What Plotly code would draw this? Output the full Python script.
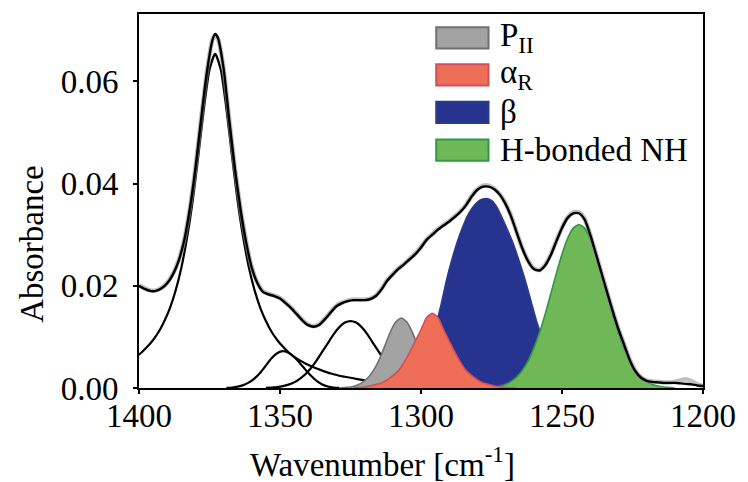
import plotly.graph_objects as go

# ---------------- data ----------------
total_x = [1400, 1398, 1396, 1394, 1392, 1390, 1388, 1386, 1384, 1382, 1380, 1378, 1376, 1374, 1373,
           1372, 1370, 1368, 1366, 1364, 1362, 1360, 1358, 1356, 1354, 1352, 1350, 1348, 1346, 1344,
           1342, 1340, 1338, 1336, 1334, 1332, 1330, 1328, 1326, 1324, 1322, 1320, 1318, 1316, 1314,
           1312, 1310, 1308, 1306, 1304, 1302, 1300, 1298, 1296, 1294, 1292, 1290, 1288, 1286, 1284,
           1282, 1280, 1278, 1276, 1274, 1272, 1270, 1268, 1266, 1264, 1262, 1260, 1258, 1256, 1254,
           1252, 1250, 1248, 1246, 1244, 1242, 1240, 1238, 1236, 1234, 1232, 1230, 1228, 1226, 1224,
           1222, 1220, 1218, 1216, 1214, 1212, 1210, 1208, 1206, 1204, 1202, 1200]
total_y = [0.0200, 0.0194, 0.0190, 0.0190, 0.0195, 0.0205, 0.0222, 0.0248, 0.0288, 0.0350, 0.0430,
           0.0525, 0.0615, 0.0680, 0.0693, 0.0685, 0.0625, 0.0525, 0.0430, 0.0350, 0.0285, 0.0235,
           0.0205, 0.0188, 0.0183, 0.0180, 0.0175, 0.0166, 0.0156, 0.0144, 0.0132, 0.0123, 0.0120,
           0.0124, 0.0135, 0.0148, 0.0160, 0.0166, 0.0170, 0.0172, 0.0172, 0.0172, 0.0174, 0.0180,
           0.0193, 0.0210, 0.0222, 0.0233, 0.0242, 0.0252, 0.0262, 0.0275, 0.0290, 0.0300, 0.0310,
           0.0318, 0.0326, 0.0335, 0.0345, 0.0358, 0.0375, 0.0388, 0.0394, 0.0394, 0.0389, 0.0378,
           0.0360, 0.0335, 0.0303, 0.0272, 0.0248, 0.0233, 0.0230, 0.0240, 0.0260, 0.0287, 0.0313,
           0.0333, 0.0342, 0.0342, 0.0330, 0.0300, 0.0263, 0.0225, 0.0187, 0.0150, 0.0115, 0.0085,
           0.0055, 0.0033, 0.0020, 0.0014, 0.0012, 0.0011, 0.0010, 0.0010, 0.0010, 0.0009, 0.0008,
           0.0007, 0.0005, 0.0004]
measured_y = [0.0201, 0.0195, 0.0191, 0.0191, 0.0196, 0.0206, 0.0223, 0.0249, 0.0289, 0.0351, 0.0431,
              0.0526, 0.0616, 0.0681, 0.0690, 0.0683, 0.0625, 0.0526, 0.0431, 0.0351, 0.0286, 0.0236,
              0.0206, 0.0189, 0.0184, 0.0181, 0.0176, 0.0167, 0.0157, 0.0145, 0.0133, 0.0124, 0.0121,
              0.0125, 0.0136, 0.0149, 0.0161, 0.0167, 0.0171, 0.0173, 0.0173, 0.0173, 0.0175, 0.0181,
              0.0194, 0.0211, 0.0223, 0.0234, 0.0243, 0.0253, 0.0263, 0.0276, 0.0291, 0.0301, 0.0311,
              0.0319, 0.0327, 0.0336, 0.0346, 0.0359, 0.0376, 0.0389, 0.0396, 0.0396, 0.0390, 0.0379,
              0.0361, 0.0336, 0.0304, 0.0273, 0.0249, 0.0234, 0.0231, 0.0241, 0.0261, 0.0288, 0.0314,
              0.0334, 0.0344, 0.0344, 0.0331, 0.0301, 0.0264, 0.0226, 0.0188, 0.0151, 0.0116, 0.0086,
              0.0056, 0.0034, 0.0021, 0.0015, 0.0013, 0.0012, 0.0011, 0.0011, 0.0012, 0.0015, 0.0017,
              0.0013, 0.0007, 0.0004]

band1373_x = [1401, 1399, 1397, 1395, 1393, 1391, 1389, 1387, 1385, 1383, 1381, 1379, 1377, 1375, 1373,
              1371, 1369, 1367, 1365, 1363, 1361, 1359, 1357, 1355, 1353, 1351, 1349, 1347, 1345, 1343,
              1341, 1339, 1337, 1335, 1333, 1331, 1329, 1327, 1325, 1323, 1321, 1319, 1317, 1315, 1313,
              1311, 1309]
band1373_y = [0.0061, 0.0070, 0.0081, 0.0094, 0.0110, 0.0131, 0.0157, 0.0191, 0.0235, 0.0293, 0.0365,
              0.0453, 0.0546, 0.0623, 0.0654, 0.0623, 0.0546, 0.0453, 0.0365, 0.0293, 0.0235, 0.0191,
              0.0157, 0.0131, 0.0110, 0.0094, 0.0081, 0.0070, 0.0061, 0.0054, 0.0048, 0.0043, 0.0038,
              0.0034, 0.0030, 0.0027, 0.0024, 0.0022, 0.0020, 0.0018, 0.0016, 0.0014, 0.0012, 0.0011,
              0.0009, 0.0008, 0.0007]

band1349_x = [1369, 1367, 1365, 1363, 1361, 1359, 1357, 1355, 1353, 1351, 1349, 1347, 1345, 1343, 1341,
              1339, 1337, 1335, 1333, 1331, 1329]
band1349_y = [0.00003, 0.0001, 0.00026, 0.00056, 0.0011, 0.0019, 0.0030, 0.0044, 0.0058, 0.0068, 0.0072,
              0.0069, 0.0061, 0.0049, 0.0036, 0.0024, 0.0014, 0.0007, 0.0003, 0.0001, 0.00003]

band1325_x = [1355, 1353, 1351, 1349, 1347, 1345, 1343, 1341, 1339, 1337, 1335, 1333, 1331, 1329, 1327,
              1325, 1323, 1321, 1319, 1317, 1315, 1313, 1311, 1309, 1307, 1305, 1303, 1301, 1299, 1297,
              1295]
band1325_y = [0.00005, 0.0001, 0.0002, 0.00037, 0.00066, 0.0011, 0.0018, 0.0027, 0.0039, 0.0054, 0.0071,
              0.0088, 0.0105, 0.0119, 0.0128, 0.0131, 0.0128, 0.0119, 0.0105, 0.0088, 0.0071, 0.0054,
              0.0039, 0.0027, 0.0018, 0.0011, 0.00066, 0.00037, 0.0002, 0.0001, 0.00005]

pii_x = [1329, 1327, 1325, 1323, 1321, 1319, 1317, 1315, 1313, 1311, 1309, 1307, 1305, 1303, 1301, 1299,
         1297, 1295, 1293, 1291, 1289, 1287, 1285]
pii_y = [0.0, 0.0001, 0.0002, 0.0005, 0.0010, 0.0019, 0.0033, 0.0053, 0.0080, 0.0108, 0.0129, 0.0137,
         0.0129, 0.0108, 0.0080, 0.0053, 0.0033, 0.0019, 0.0010, 0.0005, 0.0002, 0.0001, 0.0]

alpha_x = [1326, 1324, 1322, 1320, 1318, 1316, 1314, 1312, 1310, 1308, 1306, 1304, 1302, 1300, 1298,
           1296, 1294, 1292, 1290, 1288, 1286, 1284, 1282, 1280, 1278, 1276, 1274, 1272, 1270, 1268, 1266]
alpha_y = [0.0, 0.00005, 0.0001, 0.0002, 0.0004, 0.0007, 0.0010, 0.0016, 0.0024, 0.0034, 0.0050, 0.0070,
           0.0092, 0.0114, 0.0138, 0.0146, 0.0138, 0.0114, 0.0092, 0.0070, 0.0050, 0.0034, 0.0024,
           0.0016, 0.0010, 0.0007, 0.0004, 0.0002, 0.0001, 0.00005, 0.0]

beta_x = [1315, 1313, 1311, 1309, 1307, 1305, 1303, 1301, 1299, 1297, 1295, 1293, 1291, 1289, 1287, 1285,
          1283, 1281, 1279, 1277, 1275, 1273, 1271, 1269, 1267, 1265, 1263, 1261, 1259, 1257, 1255, 1253,
          1251, 1249, 1247, 1245, 1243, 1241, 1239, 1237]
beta_y = [0.0, 0.00005, 0.0001, 0.0003, 0.0006, 0.0011, 0.0020, 0.0034, 0.0054, 0.0082, 0.0118, 0.0160,
          0.0210, 0.0252, 0.0288, 0.0318, 0.0342, 0.0358, 0.0368, 0.0371, 0.0367, 0.0353, 0.0330, 0.0305,
          0.0278, 0.0245, 0.0210, 0.0170, 0.0130, 0.0098, 0.0070, 0.0048, 0.0031, 0.0019, 0.0011, 0.0006,
          0.0003, 0.0001, 0.00005, 0.0]

hnh_x = [1278, 1276, 1274, 1272, 1270, 1268, 1266, 1264, 1262, 1260, 1258, 1256, 1254, 1252, 1250, 1248,
         1246, 1244, 1242, 1240, 1238, 1236, 1234, 1232, 1230, 1228, 1226, 1224, 1222, 1220, 1218, 1216,
         1214, 1212, 1210]
hnh_y = [0.0, 0.0001, 0.0002, 0.0004, 0.00075, 0.0013, 0.0022, 0.0035, 0.0053, 0.0078, 0.0108, 0.0144,
         0.0184, 0.0224, 0.0262, 0.0293, 0.0313, 0.0320, 0.0313, 0.0293, 0.0262, 0.0224, 0.0184, 0.0144,
         0.0108, 0.0078, 0.0053, 0.0035, 0.0022, 0.0013, 0.00075, 0.0004, 0.0002, 0.0001, 0.0]

legend_names = ["P<sub>II</sub>", "α<sub>R</sub>", "β", "H-bonded NH"]
x_ticks = [1400, 1350, 1300, 1250, 1200]
y_ticks = [0.00, 0.02, 0.04, 0.06]

# ---------------- styles ----------------
FONT = "Liberation Serif"
FS = 33
fills = {
    "PII": ("#A3A3A3", "#707070"),
    "alpha": ("#EE6E58", "#D0505A"),
    "beta": ("#263490", "#2B3A8C"),
    "hnh": ("#6FB757", "#2F9A3F"),
}

fig = go.Figure()

# fitted component bands (black outlines)
for bx, by in [(band1373_x, band1373_y), (band1349_x, band1349_y), (band1325_x, band1325_y)]:
    fig.add_trace(go.Scatter(x=bx, y=by, mode="lines",
                             line=dict(color="black", width=2.2, shape="spline", smoothing=0.6),
                             showlegend=False, hoverinfo="skip"))

# filled secondary-structure bands (drawing order matters for overlap)
for bx, by, key in [(beta_x, beta_y, "beta"), (hnh_x, hnh_y, "hnh"),
                    (pii_x, pii_y, "PII"), (alpha_x, alpha_y, "alpha")]:
    fc, lc = fills[key]
    fig.add_trace(go.Scatter(x=bx, y=by, mode="lines", fill="tozeroy", fillcolor=fc,
                             line=dict(color=lc, width=1.6, shape="spline", smoothing=0.6),
                             showlegend=False, hoverinfo="skip"))

# measured spectrum (grey) and total fit (black)
fig.add_trace(go.Scatter(x=total_x, y=measured_y, mode="lines",
                         line=dict(color="rgba(150,150,150,0.6)", width=4.5, shape="spline", smoothing=0.6),
                         showlegend=False, hoverinfo="skip"))
fig.add_trace(go.Scatter(x=total_x, y=total_y, mode="lines",
                         line=dict(color="black", width=2.4, shape="spline", smoothing=0.6),
                         showlegend=False, hoverinfo="skip"))

# manual legend (large colour boxes as in the reference)
leg_keys = ["PII", "alpha", "beta", "hnh"]
leg_y = [0.936, 0.837, 0.737, 0.636]
half_h = 0.0285
for name, key, yc in zip(legend_names, leg_keys, leg_y):
    fc, lc = fills[key]
    fig.add_shape(type="rect", xref="paper", yref="paper", x0=0.527, x1=0.6197,
                  y0=yc - half_h, y1=yc + half_h, fillcolor=fc, line=dict(color=lc, width=2))
    fig.add_annotation(xref="paper", yref="paper", x=0.636, y=yc, text=name, showarrow=False,
                       xanchor="left", yanchor="middle", font=dict(family=FONT, size=FS, color="black"))

# axis titles
fig.add_annotation(xref="paper", yref="paper", x=0.432, y=-0.198, text="Wavenumber [cm<sup>-1</sup>]",
                   showarrow=False, xanchor="center", yanchor="middle",
                   font=dict(family=FONT, size=FS, color="black"))
fig.add_annotation(xref="paper", yref="paper", x=-0.19, y=0.385, text="Absorbance", textangle=-90,
                   showarrow=False, xanchor="center", yanchor="middle",
                   font=dict(family=FONT, size=FS, color="black"))

fig.update_layout(
    width=748, height=482,
    margin=dict(l=139, r=35, t=13, b=94),
    paper_bgcolor="white", plot_bgcolor="white",
    font=dict(family=FONT, size=FS, color="black"),
    showlegend=False,
)
fig.update_xaxes(range=[1400, 1200], tickvals=x_ticks, ticks="outside", ticklen=4, tickwidth=2,
                 tickcolor="black", showline=True, linecolor="black", linewidth=2, mirror=True,
                 showgrid=False, zeroline=False, ticklabelstandoff=-7,
                 tickfont=dict(family=FONT, size=FS))
fig.update_yaxes(range=[0, 0.0732], tickvals=y_ticks, tickformat=".2f", ticks="outside", ticklen=4,
                 tickwidth=2, tickcolor="black", showline=True, linecolor="black", linewidth=2,
                 mirror=True, showgrid=False, zeroline=False, ticklabelstandoff=8,
                 tickfont=dict(family=FONT, size=FS))

fig.write_html("out.html")
